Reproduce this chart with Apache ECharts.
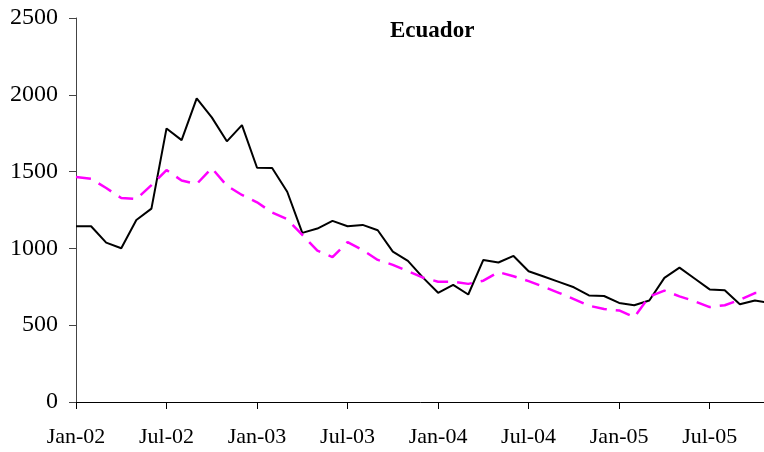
<!DOCTYPE html>
<html>
<head>
<meta charset="utf-8">
<script src="https://cdn.jsdelivr.net/npm/echarts@6/dist/echarts.min.js"></script>
<style>
html,body{margin:0;padding:0;background:#fff;}
#chart{width:764px;height:452px;}
</style>
</head>
<body>
<div id="chart"></div>
<script>
var categories = ["Jan-02","Feb-02","Mar-02","Apr-02","May-02","Jun-02","Jul-02","Aug-02","Sep-02","Oct-02","Nov-02","Dec-02",
"Jan-03","Feb-03","Mar-03","Apr-03","May-03","Jun-03","Jul-03","Aug-03","Sep-03","Oct-03","Nov-03","Dec-03",
"Jan-04","Feb-04","Mar-04","Apr-04","May-04","Jun-04","Jul-04","Aug-04","Sep-04","Oct-04","Nov-04","Dec-04",
"Jan-05","Feb-05","Mar-05","Apr-05","May-05","Jun-05","Jul-05","Aug-05","Sep-05","Oct-05","Nov-05"];

var actualValues = [1144,1144,1038,1001,1185,1259,1781,1705,1977,1853,1697,1803,
1525,1523,1369,1101,1129,1179,1144,1153,1118,979,919,810,
711,763,700,925,908,951,851,817,782,747,694,690,
645,630,661,808,875,804,733,728,636,661,645];

var fittedValues = [1465,1454,1393,1328,1321,1412,1510,1442,1419,1523,1408,1348,
1300,1234,1190,1088,985,943,1041,990,925,893,852,810,
783,784,769,790,846,819,787,750,711,670,627,605,
596,552,686,725,688,656,618,630,665,709,713];

var chartTitle = "Ecuador";

var serif = "'Liberation Serif','Times New Roman',serif";
var chart = echarts.init(document.getElementById('chart'));
chart.setOption({
  animation: false,
  backgroundColor: '#ffffff',
  title: {
    text: chartTitle,
    left: 385,
    top: 15,
    textStyle: {fontFamily: serif, fontWeight: 'bold', fontSize: 23, color: '#000'}
  },
  grid: {left: 76, top: 18, bottom: 50, right: -6, outerBoundsMode: 'none', containLabel: false},
  xAxis: {
    type: 'category',
    data: categories,
    boundaryGap: false,
    axisLine: {lineStyle: {color: '#000', width: 1}},
    axisTick: {interval: 5, length: 7, lineStyle: {color: '#000'}},
    axisLabel: {interval: 5, margin: 24, fontFamily: serif, fontSize: 22, color: '#000'},
    splitLine: {show: false}
  },
  yAxis: {
    type: 'value',
    min: 0, max: 2500, interval: 500,
    axisLine: {show: true, lineStyle: {color: '#444', width: 1}},
    axisTick: {show: true, length: 7, lineStyle: {color: '#444'}},
    axisLabel: {margin: 18, fontFamily: serif, fontSize: 24, color: '#000',
      formatter: function (v) { return String(v); }},
    splitLine: {show: false}
  },
  series: [
    {
      name: 'Actual',
      type: 'line',
      data: actualValues,
      symbol: 'none',
      lineStyle: {color: '#000', width: 2}
    },
    {
      name: 'Fitted',
      type: 'line',
      data: fittedValues,
      symbol: 'none',
      lineStyle: {color: '#ff00ff', width: 2.5, type: [15, 9]}
    }
  ]
});
</script>
</body>
</html>
